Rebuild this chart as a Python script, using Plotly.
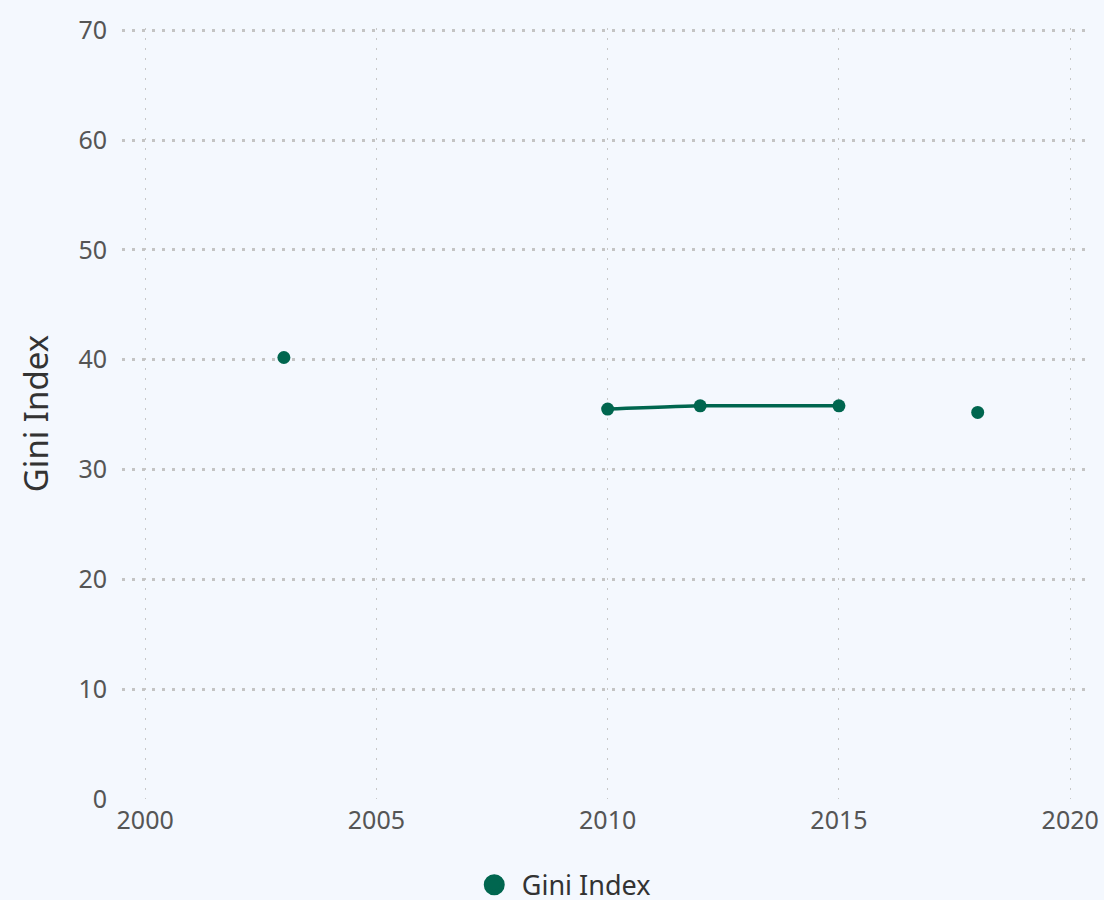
import plotly.graph_objects as go

years = [2003, 2006, 2010, 2012, 2015, 2016, 2018]
gini = [40.2, None, 35.5, 35.8, 35.8, None, 35.2]
series_name = "Gini Index"
x_ticks = [2000, 2005, 2010, 2015, 2020]
y_ticks = [0, 10, 20, 30, 40, 50, 60, 70]

color = "#00664F"
bg = "#F4F8FE"
font = "Noto Sans"

fig = go.Figure()
fig.add_trace(go.Scatter(
    x=years, y=gini, mode="lines+markers", name=series_name,
    line=dict(color=color, width=3.5, shape="spline", smoothing=0.4),
    marker=dict(color=color, size=13),
    connectgaps=False, showlegend=False,
))
fig.add_trace(go.Scatter(
    x=[None], y=[None], mode="markers", name=series_name,
    marker=dict(color=color, size=16, line=dict(color=color, width=5)),
    showlegend=True,
))

fig.update_layout(
    width=1104, height=900,
    paper_bgcolor=bg, plot_bgcolor=bg,
    margin=dict(l=122, r=19, t=28, b=101, autoexpand=False),
    font=dict(family=font, size=25, color="#555555"),
    legend=dict(orientation="h", x=0.358, xanchor="left", y=-0.08, yanchor="top",
                itemwidth=45,
                font=dict(family=font, size=27, color="#333333"),
                bgcolor="rgba(0,0,0,0)"),
    xaxis=dict(range=[1999.5, 2020.32], tickvals=x_ticks, showgrid=True,
               gridcolor="#C8C8C8", gridwidth=1, griddash="2px,8px",
               zeroline=False, showline=False, ticks="", automargin=False,
               ticklabelstandoff=4,
               tickfont=dict(family=font, size=25, color="#555555")),
    yaxis=dict(range=[0, 70.2], tickvals=y_ticks, showgrid=True,
               gridcolor="#C4C4C4", gridwidth=3, griddash="3px,7px",
               zeroline=False, showline=False, ticks="", automargin=False,
               ticklabelstandoff=14,
               tickfont=dict(family=font, size=25, color="#555555"),
               title=dict(text=series_name, font=dict(family=font, size=33, color="#333333"),
                          standoff=19)),
)

fig.write_html("out.html", config={"displayModeBar": False},
               post_script="document.body.style.margin='0';")
